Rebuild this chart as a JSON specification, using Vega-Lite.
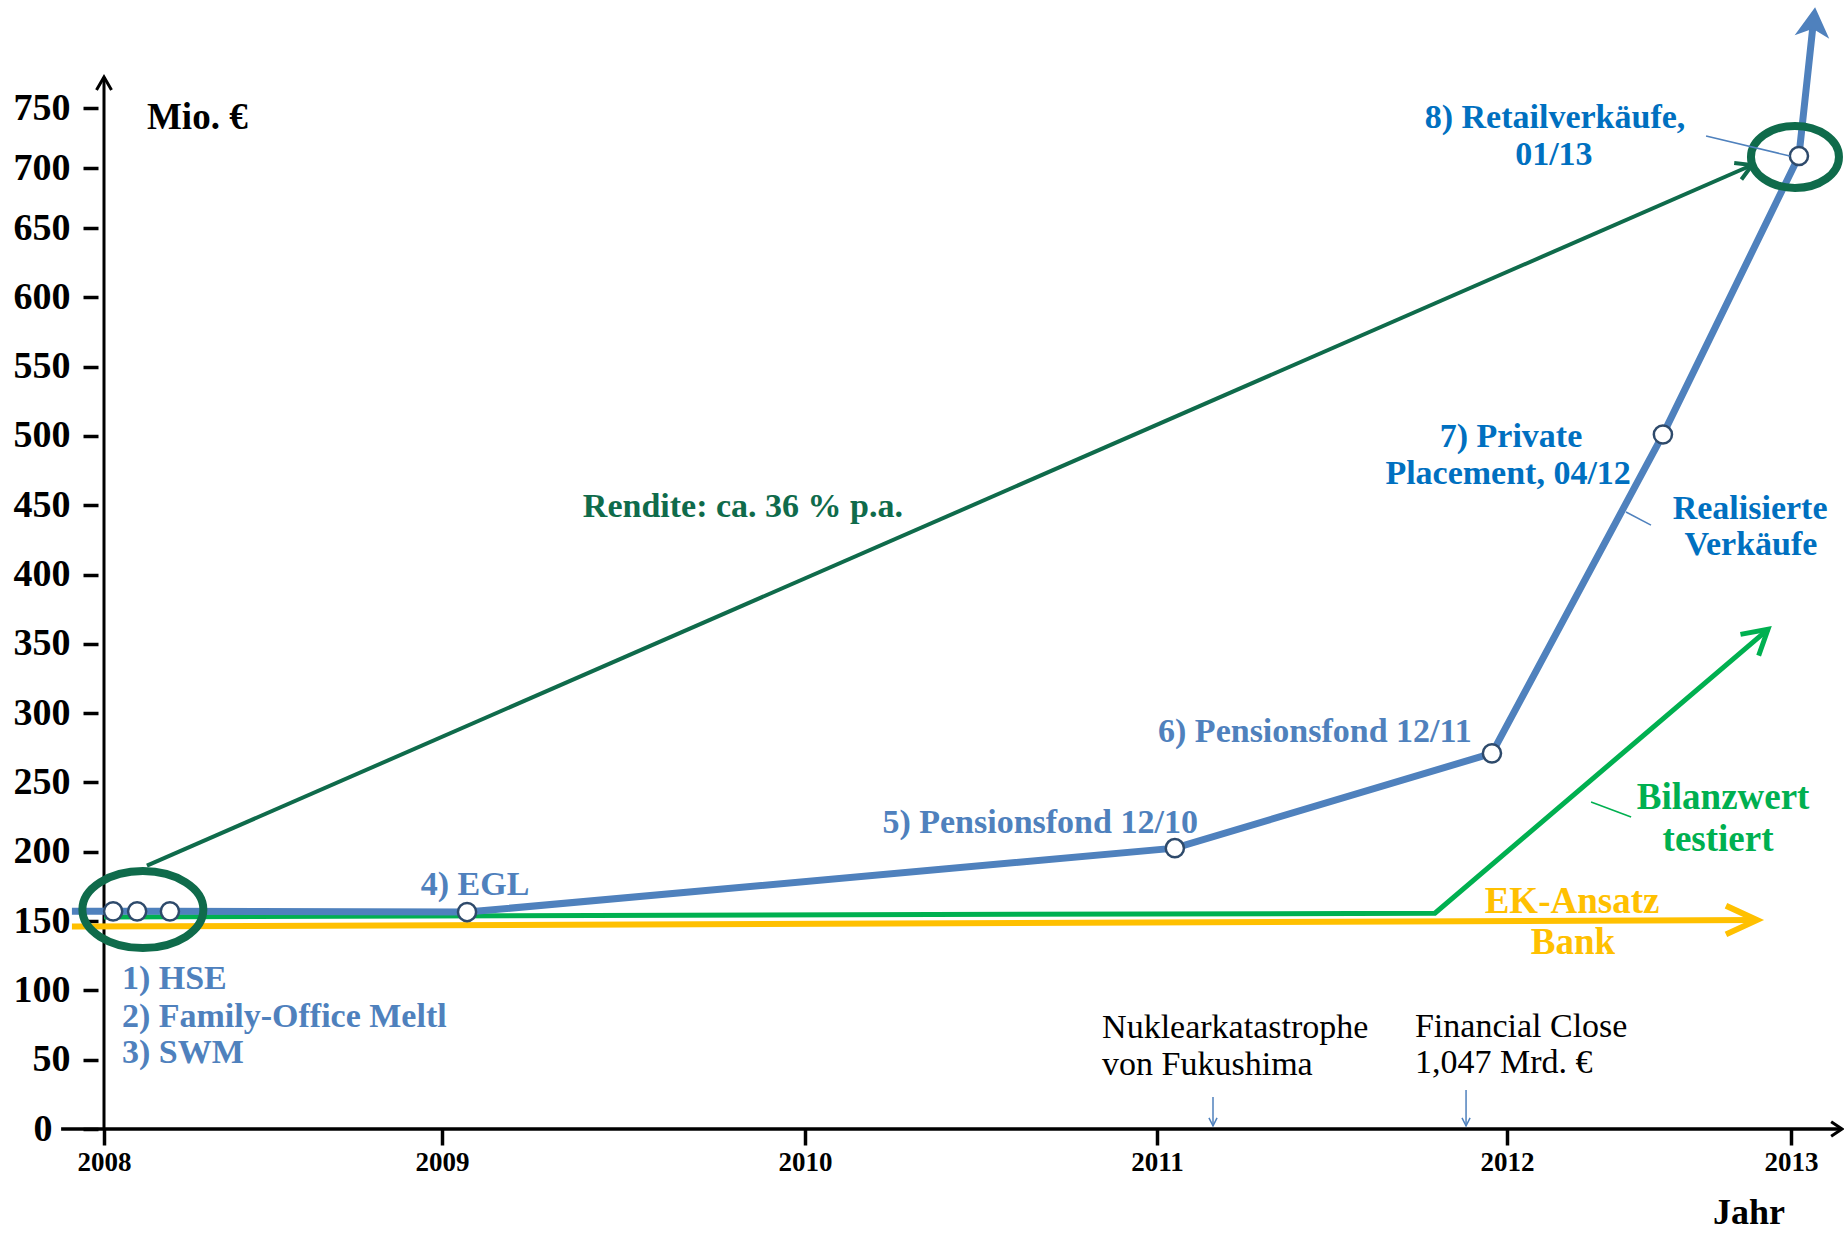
{
  "$schema": "https://vega.github.io/schema/vega-lite/v6.json",
  "width": 1844,
  "height": 1129,
  "autosize": {"type": "none"},
  "padding": {"left": 0, "top": 0, "right": 0, "bottom": 105},
  "background": "white",
  "config": {"view": {"stroke": null}, "font": "Liberation Serif"},
  "datasets": {
    "yellow": [{"x": 2007.905, "y": 146}, {"x": 2012.88, "y": 150.7}],
    "green": [{"x": 2008.0, "y": 153}, {"x": 2011.794, "y": 155.7}, {"x": 2012.919, "y": 360.5}],
    "blue": [
      {"x": 2007.905, "y": 157}, {"x": 2008.027, "y": 157}, {"x": 2008.098, "y": 157}, {"x": 2008.195, "y": 157},
      {"x": 2009.069, "y": 156.5}, {"x": 2011.051, "y": 202.6}, {"x": 2011.957, "y": 271}, {"x": 2012.549, "y": 501},
      {"x": 2013.028, "y": 710}, {"x": 2013.079, "y": 821.7}
    ],
    "darkgreen": [{"x": 2008.127, "y": 190}, {"x": 2012.863, "y": 702.5}],
    "sales": [
      {"x": 2008.027, "y": 157}, {"x": 2008.098, "y": 157}, {"x": 2008.195, "y": 157}, {"x": 2009.069, "y": 156.5},
      {"x": 2011.051, "y": 202.6}, {"x": 2011.957, "y": 271}, {"x": 2012.549, "y": 501}, {"x": 2013.028, "y": 710}
    ],
    "yaxisline": [{"x": 2008, "y": 0, "y2": 775.8}],
    "xaxisline": [{"x": 2007.873, "x2": 2013.18, "y": 0}],
    "yaxistip": [{"x": 2008, "y": 775.8}],
    "xaxistip": [{"x": 2013.18, "y": 0}],
    "bluetip": [{"x": 2013.085, "y": 834}],
    "greentip": [{"x": 2012.919, "y": 360.5}],
    "yellowtip": [{"x": 2012.88, "y": 150.7}],
    "darkgreentip": [{"x": 2012.863, "y": 702.5}],
    "ellipseLeft": [{"x": 2008.115, "y": 158.3}],
    "ellipseRight": [{"x": 2013.014, "y": 709.2}],
    "leaderBlue": [
      {"x": 2012.701, "y": 726.7, "x2": 2012.996, "y2": 710},
      {"x": 2012.419, "y": 445.1, "x2": 2012.507, "y2": 435.7}
    ],
    "leaderGreen": [{"x": 2012.296, "y": 235.9, "x2": 2012.437, "y2": 225.1}],
    "eventLines": [
      {"x": 2011.16, "y": 23.1, "y2": 2.2},
      {"x": 2011.883, "y": 28.1, "y2": 2.2}
    ],
    "eventTips": [{"x": 2011.16, "y": 2.2}, {"x": 2011.883, "y": 2.2}],
    "txtMuted": [
      {"x": 2009.091, "y": 176, "label": "4) EGL"},
      {"x": 2010.668, "y": 220.7, "label": "5) Pensionsfond 12/10"},
      {"x": 2011.451, "y": 286.4, "label": "6) Pensionsfond 12/11"}
    ],
    "txtMutedLeft": [
      {"x": 2008.053, "y": 108.2, "label": "1) HSE"},
      {"x": 2008.053, "y": 80.8, "label": "2) Family-Office Meltl"},
      {"x": 2008.053, "y": 54.8, "label": "3) SWM"}
    ],
    "txtBright": [
      {"x": 2012.169, "y": 741.7, "label": "8) Retailverkäufe,"},
      {"x": 2012.165, "y": 710.8, "label": "01/13"},
      {"x": 2012.014, "y": 499.2, "label": "7) Private"},
      {"x": 2012.004, "y": 472.5, "label": "Placement, 04/12"},
      {"x": 2012.856, "y": 447.3, "label": "Realisierte"},
      {"x": 2012.859, "y": 421.3, "label": "Verkäufe"}
    ],
    "txtGreen": [
      {"x": 2012.761, "y": 238.8, "label": "Bilanzwert"},
      {"x": 2012.743, "y": 208.5, "label": "testiert"}
    ],
    "txtYellow": [
      {"x": 2012.229, "y": 163.8, "label": "EK-Ansatz"},
      {"x": 2012.232, "y": 134.2, "label": "Bank"}
    ],
    "txtRendite": [{"x": 2009.829, "y": 448.7, "label": "Rendite: ca. 36 % p.a."}],
    "txtEvents": [
      {"x": 2010.844, "y": 72.9, "label": "Nuklearkatastrophe"},
      {"x": 2010.844, "y": 46.2, "label": "von Fukushima"},
      {"x": 2011.737, "y": 73.6, "label": "Financial Close"},
      {"x": 2011.737, "y": 47.6, "label": "1,047 Mrd. €"}
    ],
    "txtUnit": [{"x": 2008.127, "y": 741.7, "label": "Mio. €"}],
    "txtJahr": [{"x": 2012.852, "y": -60.5, "label": "Jahr"}]
  },
  "encoding": {
    "x": {
      "field": "x", "type": "quantitative",
      "scale": {"domain": [2007.692, 2008, 2009, 2010, 2011, 2012, 2013, 2013.187], "range": [0, 104, 442, 805, 1157, 1507, 1791, 1844], "nice": false, "zero": false},
      "axis": {"orient": "bottom", "values": [2008, 2009, 2010, 2011, 2012, 2013], "format": "d", "title": null, "domain": false, "grid": false,
        "tickColor": "black", "tickSize": 16, "tickWidth": 3.5, "labelFont": "Liberation Serif", "labelFontWeight": "bold", "labelFontSize": 27,
        "labelColor": "black", "labelPadding": 4, "labelFlush": false, "labelOverlap": false}
    },
    "y": {
      "field": "y", "type": "quantitative",
      "scale": {"domain": [0, 650, 840], "range": [1129, 228, 0], "nice": false, "zero": false},
      "axis": {"orient": "left", "offset": -98, "values": [0, 50, 100, 150, 200, 250, 300, 350, 400, 450, 500, 550, 600, 650, 700, 750], "title": null,
        "domain": false, "grid": false, "tickColor": "black", "tickSize": 15, "tickWidth": 3.5, "labelFont": "Liberation Serif",
        "labelFontWeight": "bold", "labelFontSize": 38, "labelColor": "black",
        "labelPadding": {"condition": {"test": "datum.value === 0", "value": 31}, "value": 13},
        "labelFlush": false, "labelOverlap": false}
    }
  },
  "layer": [
    {"data": {"name": "yaxisline"}, "mark": {"type": "rule", "color": "black", "strokeWidth": 3}, "encoding": {"y2": {"field": "y2"}}},
    {"data": {"name": "xaxisline"}, "mark": {"type": "rule", "color": "black", "strokeWidth": 3.5}, "encoding": {"x2": {"field": "x2"}}},
    {"data": {"name": "yaxistip"}, "mark": {"type": "point", "shape": "M-0.5,0.866L0,0L0.5,0.866", "filled": false, "stroke": "black", "strokeWidth": 3, "size": 900, "angle": 0, "opacity": 1}},
    {"data": {"name": "xaxistip"}, "mark": {"type": "point", "shape": "M-0.55,0.835L0,0L0.55,0.835", "filled": false, "stroke": "black", "strokeWidth": 3, "size": 676, "angle": 90, "opacity": 1}},
    {"data": {"name": "yellow"}, "mark": {"type": "line", "color": "#ffc000", "strokeWidth": 6}},
    {"data": {"name": "yellowtip"}, "mark": {"type": "point", "shape": "M-0.42,0.91L0,0L0.42,0.91", "filled": false, "stroke": "#ffc000", "strokeWidth": 6, "size": 4624, "angle": 90, "opacity": 1}},
    {"data": {"name": "green"}, "mark": {"type": "line", "color": "#00b050", "strokeWidth": 5}},
    {"data": {"name": "greentip"}, "mark": {"type": "point", "shape": "M-0.5,0.866L0,0L0.5,0.866", "filled": false, "stroke": "#00b050", "strokeWidth": 5, "size": 3136, "angle": 49.5, "opacity": 1}},
    {"data": {"name": "darkgreen"}, "mark": {"type": "line", "color": "#0f6b4b", "strokeWidth": 4}},
    {"data": {"name": "darkgreentip"}, "mark": {"type": "point", "shape": "M-0.5,0.866L0,0L0.5,0.866", "filled": false, "stroke": "#0f6b4b", "strokeWidth": 4, "size": 1296, "angle": 66.4, "opacity": 1}},
    {"data": {"name": "blue"}, "mark": {"type": "line", "color": "#4f81bd", "strokeWidth": 7}},
    {"data": {"name": "bluetip"}, "mark": {"type": "point", "shape": "M0,0L0.58,1L0,0.72L-0.58,1Z", "filled": true, "fill": "#4f81bd", "strokeWidth": 0, "size": 3600, "angle": 6, "opacity": 1}},
    {"data": {"name": "sales"}, "mark": {"type": "point", "shape": "circle", "filled": true, "fill": "white", "stroke": "#2e4a6b", "strokeWidth": 2.5, "size": 330, "opacity": 1}},
    {"data": {"name": "ellipseLeft"}, "mark": {"type": "point", "shape": "M-1,0C-1,-0.351,-0.552,-0.636,0,-0.636C0.552,-0.636,1,-0.351,1,0C1,0.351,0.552,0.636,0,0.636C-0.552,0.636,-1,0.351,-1,0Z", "filled": false, "stroke": "#0f6b4b", "strokeWidth": 8, "size": 14641, "opacity": 1}},
    {"data": {"name": "ellipseRight"}, "mark": {"type": "point", "shape": "M-1,0C-1,-0.389,-0.552,-0.705,0,-0.705C0.552,-0.705,1,-0.389,1,0C1,0.389,0.552,0.705,0,0.705C-0.552,0.705,-1,0.389,-1,0Z", "filled": false, "stroke": "#0f6b4b", "strokeWidth": 8, "size": 7744, "opacity": 1}},
    {"data": {"name": "leaderBlue"}, "mark": {"type": "rule", "color": "#4f81bd", "strokeWidth": 1.5}, "encoding": {"x2": {"field": "x2"}, "y2": {"field": "y2"}}},
    {"data": {"name": "leaderGreen"}, "mark": {"type": "rule", "color": "#00b050", "strokeWidth": 1.5}, "encoding": {"x2": {"field": "x2"}, "y2": {"field": "y2"}}},
    {"data": {"name": "eventLines"}, "mark": {"type": "rule", "color": "#4f81bd", "strokeWidth": 1.5}, "encoding": {"y2": {"field": "y2"}}},
    {"data": {"name": "eventTips"}, "mark": {"type": "point", "shape": "M-0.45,0.89L0,0L0.45,0.89", "filled": false, "stroke": "#4f81bd", "strokeWidth": 1.5, "size": 324, "angle": 180, "opacity": 1}},
    {"data": {"name": "txtMuted"}, "mark": {"type": "text", "font": "Liberation Serif", "fontWeight": "bold", "fontSize": 34, "color": "#4f81bd", "align": "center", "baseline": "middle"}, "encoding": {"text": {"field": "label"}}},
    {"data": {"name": "txtMutedLeft"}, "mark": {"type": "text", "font": "Liberation Serif", "fontWeight": "bold", "fontSize": 34, "color": "#4f81bd", "align": "left", "baseline": "middle"}, "encoding": {"text": {"field": "label"}}},
    {"data": {"name": "txtBright"}, "mark": {"type": "text", "font": "Liberation Serif", "fontWeight": "bold", "fontSize": 34, "color": "#0070c0", "align": "center", "baseline": "middle"}, "encoding": {"text": {"field": "label"}}},
    {"data": {"name": "txtGreen"}, "mark": {"type": "text", "font": "Liberation Serif", "fontWeight": "bold", "fontSize": 37, "color": "#00b050", "align": "center", "baseline": "middle"}, "encoding": {"text": {"field": "label"}}},
    {"data": {"name": "txtYellow"}, "mark": {"type": "text", "font": "Liberation Serif", "fontWeight": "bold", "fontSize": 37, "color": "#ffc000", "align": "center", "baseline": "middle"}, "encoding": {"text": {"field": "label"}}},
    {"data": {"name": "txtRendite"}, "mark": {"type": "text", "font": "Liberation Serif", "fontWeight": "bold", "fontSize": 34, "color": "#0f6b4b", "align": "center", "baseline": "middle"}, "encoding": {"text": {"field": "label"}}},
    {"data": {"name": "txtEvents"}, "mark": {"type": "text", "font": "Liberation Serif", "fontWeight": "normal", "fontSize": 34, "color": "black", "align": "left", "baseline": "middle"}, "encoding": {"text": {"field": "label"}}},
    {"data": {"name": "txtUnit"}, "mark": {"type": "text", "font": "Liberation Serif", "fontWeight": "bold", "fontSize": 37, "color": "black", "align": "left", "baseline": "middle"}, "encoding": {"text": {"field": "label"}}},
    {"data": {"name": "txtJahr"}, "mark": {"type": "text", "font": "Liberation Serif", "fontWeight": "bold", "fontSize": 36, "color": "black", "align": "center", "baseline": "middle"}, "encoding": {"text": {"field": "label"}}}
  ]
}
